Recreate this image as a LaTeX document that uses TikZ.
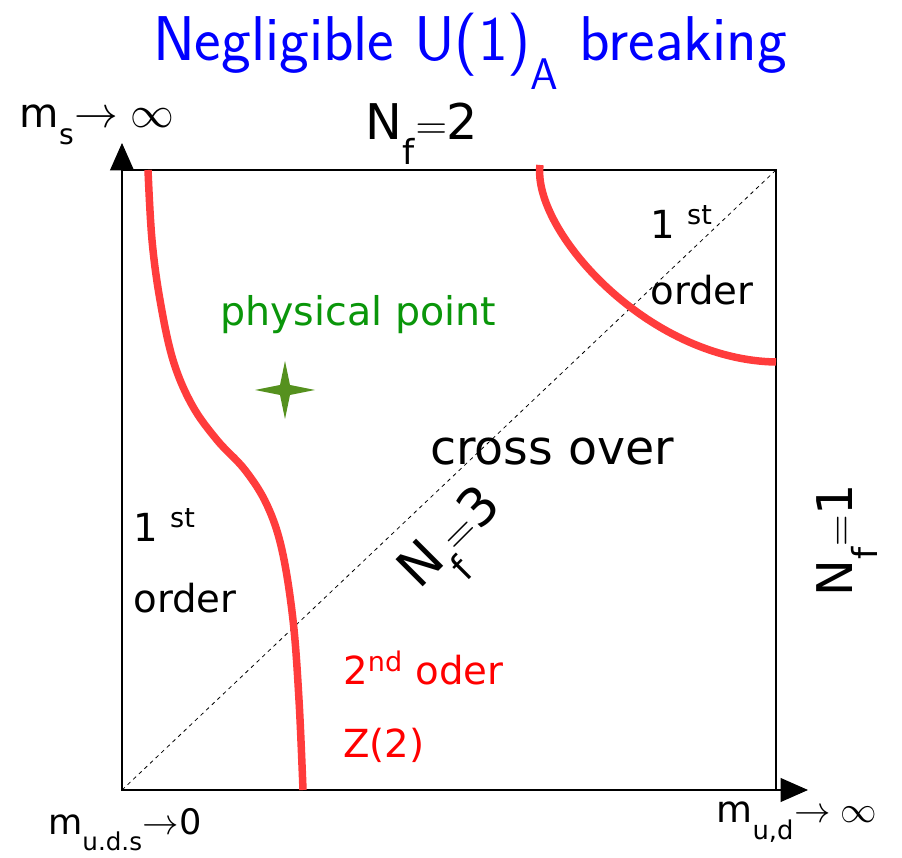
\documentclass[tikz,border=0pt]{standalone}
\usepackage{fontspec}
\usepackage{amsmath}
\usepackage{tikz}
\usetikzlibrary{arrows.meta}
\newfontfamily\dejavu{DejaVu Sans}
\definecolor{lineRed}{RGB}{255,60,60}
\definecolor{starGreen}{RGB}{85,145,30}
\definecolor{physGreen}{RGB}{10,150,10}
\newcommand\lowsub[1]{\raisebox{-0.5ex}{\textsubscript{#1}}}

\begin{document}
\begin{tikzpicture}[
    axis/.style={-{Triangle[length=0.55cm,width=0.48cm]}, line width=0.6pt},
    transition/.style={lineRed, line width=0.15cm},
    lbl/.style={font=\dejavu\fontsize{22}{24}\selectfont, inner sep=0pt},
  ]

\def\L{13.08} % box width
\def\H{12.4}  % box height

\useasboundingbox (-2.44,-1.34) rectangle (15.6,15.8);

\coordinate (O) at (0,0);
\coordinate (TR) at (\L,\H);
\coordinate (Xend) at (13.72,0);
\coordinate (Yend) at (0,12.94);

% Box
\draw[line width=0.6pt] (O) rectangle (TR);
% Axes
\draw[axis] (O) -- (Xend);
\draw[axis] (O) -- (Yend);
% N_f=3 diagonal
\draw[dashed, line width=0.45pt, dash pattern=on 2.2pt off 2.2pt] (O) -- (TR);

% 2nd order line (left)
\draw[transition] plot[smooth, tension=0.6] coordinates {(0.52,\H) (0.6,11.0) (0.76,9.8)
  (1.02,8.6) (1.4,7.7) (1.9,7.0) (2.46,6.4) (2.9,5.7) (3.2,4.8) (3.42,3.4) (3.54,1.8) (3.62,0)};
% 2nd order line (top right)
\draw[transition] (8.36,12.5) .. controls (8.2,11.2) and (10.5,8.6) .. (\L,8.56);

% Physical point star
\fill[starGreen] (3.26,8.0) +(0.6,0) -- +(0.1,0.1) -- +(0,0.58) -- +(-0.1,0.1)
  -- +(-0.6,0) -- +(-0.1,-0.1) -- +(0,-0.58) -- +(0.1,-0.1) -- cycle;

% Title
\node[font=\sffamily\fontsize{36}{40}\selectfont, text=blue] (title) at (6.96,14.78)
  {Negligible U(1)\lowsub{A} breaking};

% Axis labels
\node[lbl, font=\dejavu\fontsize{23}{25}\selectfont] (ms) at (-0.5,13.3)
  {m\lowsub{s}$\rightarrow\infty$};
\node[lbl, font=\dejavu\fontsize{20}{22}\selectfont] (muds) at (0.06,-0.8)
  {m\lowsub{u.d.s}$\rightarrow$0};
\node[lbl, font=\dejavu\fontsize{21}{23}\selectfont] (mud) at (13.5,-0.64)
  {m\lowsub{u,d}$\rightarrow\infty$};

% Flavour limits
\node[lbl, font=\dejavu\fontsize{28}{30}\selectfont] (nf2) at (6.0,13.12)
  {N\lowsub{f}$=$2};
\node[lbl, font=\dejavu\fontsize{30}{32}\selectfont, rotate=45] (nf3) at (6.7,4.9)
  {N\lowsub{f}$=$3};
\node[lbl, font=\dejavu\fontsize{28}{30}\selectfont, rotate=90] (nf1) at (14.5,5.0)
  {N\lowsub{f}$=$1};

% Regions
\node[lbl, anchor=west] (firstR) at (10.56,11.36) {1 \textsuperscript{st}};
\node[lbl, anchor=west] (orderR) at (10.56,10.0) {order};
\node[lbl, anchor=west] (firstL) at (0.22,5.3) {1 \textsuperscript{st}};
\node[lbl, anchor=west] (orderL) at (0.22,3.84) {order};
\node[lbl, anchor=west, text=physGreen, font=\dejavu\fontsize{22.5}{24}\selectfont] (phys) at (1.96,9.5) {physical point};
\node[lbl, anchor=west, font=\dejavu\fontsize{27}{29}\selectfont] (cross) at (6.16,6.76) {cross over};
\node[lbl, anchor=west, text=red] (second) at (4.42,2.44) {2\textsuperscript{nd} oder};
\node[lbl, anchor=west, text=red] (z2) at (4.42,0.9) {Z(2)};

\end{tikzpicture}
\end{document}
